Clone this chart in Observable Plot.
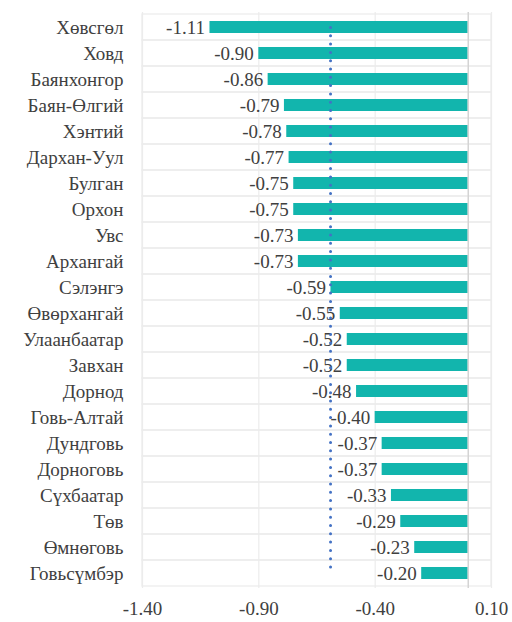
<!DOCTYPE html>
<html>
<head>
<meta charset="utf-8">
<script src="https://cdn.jsdelivr.net/npm/d3@7"></script>
<script src="https://cdn.jsdelivr.net/npm/@observablehq/plot@0.6"></script>
<style>
  html, body { margin: 0; padding: 0; background: #fff; }
  #chart svg { display: block; }
</style>
</head>
<body>
<div id="chart"></div>
<script>
const aimags = ["Хөвсгөл","Ховд","Баянхонгор","Баян-Өлгий","Хэнтий","Дархан-Уул","Булган","Орхон","Увс","Архангай","Сэлэнгэ","Өвөрхангай","Улаанбаатар","Завхан","Дорнод","Говь-Алтай","Дундговь","Дорноговь","Сүхбаатар","Төв","Өмнөговь","Говьсүмбэр"];
const values = [-1.11,-0.90,-0.86,-0.79,-0.78,-0.77,-0.75,-0.75,-0.73,-0.73,-0.59,-0.55,-0.52,-0.52,-0.48,-0.40,-0.37,-0.37,-0.33,-0.29,-0.23,-0.20];
const xTicks = [-1.40, -0.90, -0.40, 0.10];

const data = aimags.map((name, i) => ({name, value: values[i]}));
const mean = d3.mean(values);
const meanLine = [{name: aimags[0], x: mean}, {name: aimags[aimags.length - 1], x: mean}];

const serifFont = "serif";

const chart = Plot.plot({
  width: 512,
  height: 622,
  marginLeft: 142,
  marginRight: 21,
  marginTop: 12,
  marginBottom: 34,
  style: {fontFamily: serifFont, fontSize: "19px"},
  x: {domain: [-1.4, 0.1], ticks: xTicks, tickFormat: d => d.toFixed(2), tickSize: 0, tickPadding: 13, label: null},
  y: {domain: aimags, padding: 0, tickSize: 0, tickPadding: 19, label: null},
  marks: [
    Plot.barX(data, {y: "name", x1: -1.4, x2: 0.1, fill: "none", stroke: "#ececec", strokeWidth: 1.2}),
    Plot.ruleX(xTicks, {stroke: "#ececec", strokeWidth: 1.2}),
    Plot.barX(data, {y: "name", x: "value", fill: "#12b5ad", insetTop: 7, insetBottom: 7}),
    Plot.ruleX([0], {stroke: "#d4d4d4", strokeWidth: 1.5}),
    Plot.text(data, {y: "name", x: "value", text: d => d.value.toFixed(2), textAnchor: "end", dx: -5}),
    Plot.line(meanLine, {x: "x", y: "name", stroke: "#4472c4", strokeWidth: 3, strokeDasharray: "0,8.3", strokeLinecap: "round"})
  ]
});
chart.setAttribute("font-family", serifFont);
chart.setAttribute("fill", "#404040");
chart.querySelectorAll("text").forEach(t => {
  t.setAttribute("font-family", serifFont);
  t.setAttribute("fill", "#404040");
});
document.getElementById("chart").appendChild(chart);
</script>
</body>
</html>
